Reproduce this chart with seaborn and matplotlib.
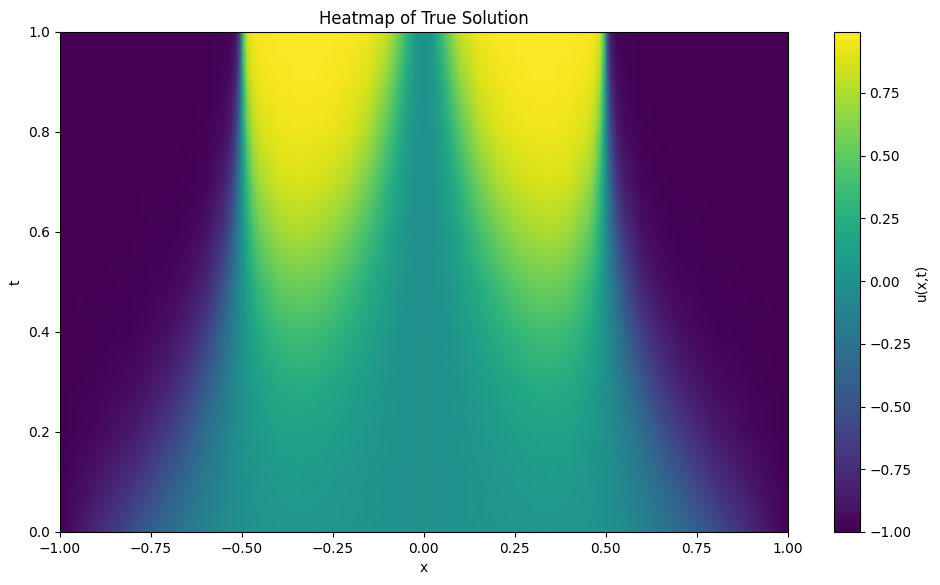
import numpy as np
import matplotlib
matplotlib.use("Agg")
import matplotlib.pyplot as plt
import seaborn as sns

# values, left half of the field, one list per x column
t_values = [0.0, 0.1, 0.2, 0.3, 0.4, 0.5, 0.6, 0.7, 0.8, 0.9, 1.0]
x_left = [-1.0, -0.9, -0.8, -0.75, -0.7, -0.65, -0.6, -0.55, -0.53, -0.515, -0.505, -0.495, -0.485,
          -0.47, -0.45, -0.4, -0.35, -0.3, -0.25, -0.2, -0.15, -0.1, -0.075, -0.05, -0.025, 0.0]

u_m1000 = [-1, -1, -1, -1, -1, -1, -1, -1, -1, -1, -1]
u_m0900 = [-.77, -.89, -.96, -.98, -.99, -1, -1, -1, -1, -1, -1]
u_m0800 = [-.52, -.71, -.86, -.94, -.98, -.99, -1, -1, -1, -1, -1]
u_m0750 = [-.40, -.58, -.76, -.89, -.96, -.98, -.99, -1, -1, -1, -1]
u_m0700 = [-.29, -.44, -.63, -.80, -.91, -.97, -.99, -1, -1, -1, -1]
u_m0650 = [-.19, -.31, -.47, -.66, -.82, -.92, -.97, -.99, -1, -1, -1]
u_m0600 = [-.11, -.18, -.29, -.45, -.64, -.81, -.91, -.97, -.99, -1, -1]
u_m0550 = [-.05, -.08, -.13, -.21, -.33, -.50, -.69, -.84, -.93, -.97, -.99]
u_m0530 = [-.026, -.043, -.072, -.118, -.191, -.306, -.468, -.658, -.822, -.922, -.969]
u_m0515 = [-.012, -.021, -.034, -.056, -.092, -.151, -.243, -.382, -.564, -.747, -.880]
u_m0505 = [-.004, -.007, -.011, -.018, -.030, -.049, -.080, -.131, -.213, -.339, -.511]
u_m0495 = [.004, .006, .010, .017, .028, .046, .076, .125, .203, .324, .491]
u_m0485 = [.011, .018, .030, .050, .082, .134, .218, .345, .518, .707, .854]
u_m0470 = [.021, .034, .056, .093, .152, .245, .386, .567, .750, .882, .951]
u_m0450 = [.032, .052, .086, .141, .228, .360, .537, .724, .866, .944, .978]
u_m0400 = [.049, .081, .133, .216, .343, .515, .704, .853, .938, .976, .991]
u_m0350 = [.056, .092, .150, .242, .380, .561, .745, .879, .950, .981, .993]
u_m0300 = [.053, .087, .142, .231, .364, .542, .728, .868, .945, .979, .992]
u_m0250 = [.044, .073, .119, .194, .311, .474, .664, .825, .924, .970, .989]
u_m0200 = [.032, .053, .088, .144, .233, .367, .545, .731, .871, .946, .979]
u_m0150 = [.020, .033, .054, .090, .146, .237, .373, .552, .738, .874, .948]
u_m0100 = [.010, .016, .026, .043, .070, .115, .188, .300, .461, .650, .815]
u_m0075 = [.006, .009, .015, .025, .041, .067, .110, .179, .288, .444, .632]
u_m0050 = [.002, .004, .007, .011, .018, .030, .050, .083, .135, .221, .348]
u_m0025 = [.001, .001, .002, .003, .004, .007, .012, .020, .033, .054, .089]
u_0000 = [0, 0, 0, 0, 0, 0, 0, 0, 0, 0, 0]

x_ticks = [-1.0, -0.75, -0.5, -0.25, 0.0, 0.25, 0.5, 0.75, 1.0]
t_ticks = [0.0, 0.2, 0.4, 0.6, 0.8, 1.0]
cbar_ticks = [-1.0, -0.75, -0.5, -0.25, 0.0, 0.25, 0.5, 0.75]

left = np.column_stack([
    u_m1000, u_m0900, u_m0800, u_m0750, u_m0700, u_m0650, u_m0600, u_m0550, u_m0530,
    u_m0515, u_m0505, u_m0495, u_m0485, u_m0470, u_m0450, u_m0400, u_m0350, u_m0300,
    u_m0250, u_m0200, u_m0150, u_m0100, u_m0075, u_m0050, u_m0025, u_0000,
])

# the field looks mirrored around x=0
x_all = np.array(x_left + [-v for v in x_left[-2::-1]])
grid = np.hstack([left, left[:, -2::-1]])

plt.rcParams["font.size"] = 9.9

fig = plt.figure(figsize=(9.4, 5.85), dpi=100)
ax = fig.add_axes([0.0638, 0.0906, 0.7740, 0.8547])
cax = fig.add_axes([0.887, 0.0906, 0.0277, 0.8547])

sns.heatmap(grid, ax=ax, cbar_ax=cax, cmap="viridis", vmin=-1.0, vmax=0.993,
            xticklabels=False, yticklabels=False, shading="gouraud",
            cbar_kws={"label": "u(x,t)", "ticks": cbar_ticks})

# heatmap lays cells out by index, move the mesh nodes onto the real x/t values
mesh = ax.collections[0]
xx, tt = np.meshgrid(x_all, t_values)
mesh._coordinates = np.stack([xx, tt], axis=-1)
ax.set_xlim(-1, 1)
ax.set_ylim(0, 1)

ax.set_xticks(x_ticks)
ax.set_yticks(t_ticks)
ax.set_xticklabels([f"{v:.2f}".replace("-", "\u2212") for v in x_ticks])
ax.set_yticklabels([f"{v:.1f}" for v in t_ticks], rotation=0)
ax.set_xlabel("x")
ax.set_ylabel("t")
ax.set_title("Heatmap of True Solution")
for spine in ax.spines.values():
    spine.set_visible(True)
    spine.set_linewidth(0.8)

mesh.colorbar.outline.set_linewidth(0.8)
cax.set_ylabel("u(x,t)", labelpad=2)

plt.savefig("out.png", dpi=100)
plt.close()
